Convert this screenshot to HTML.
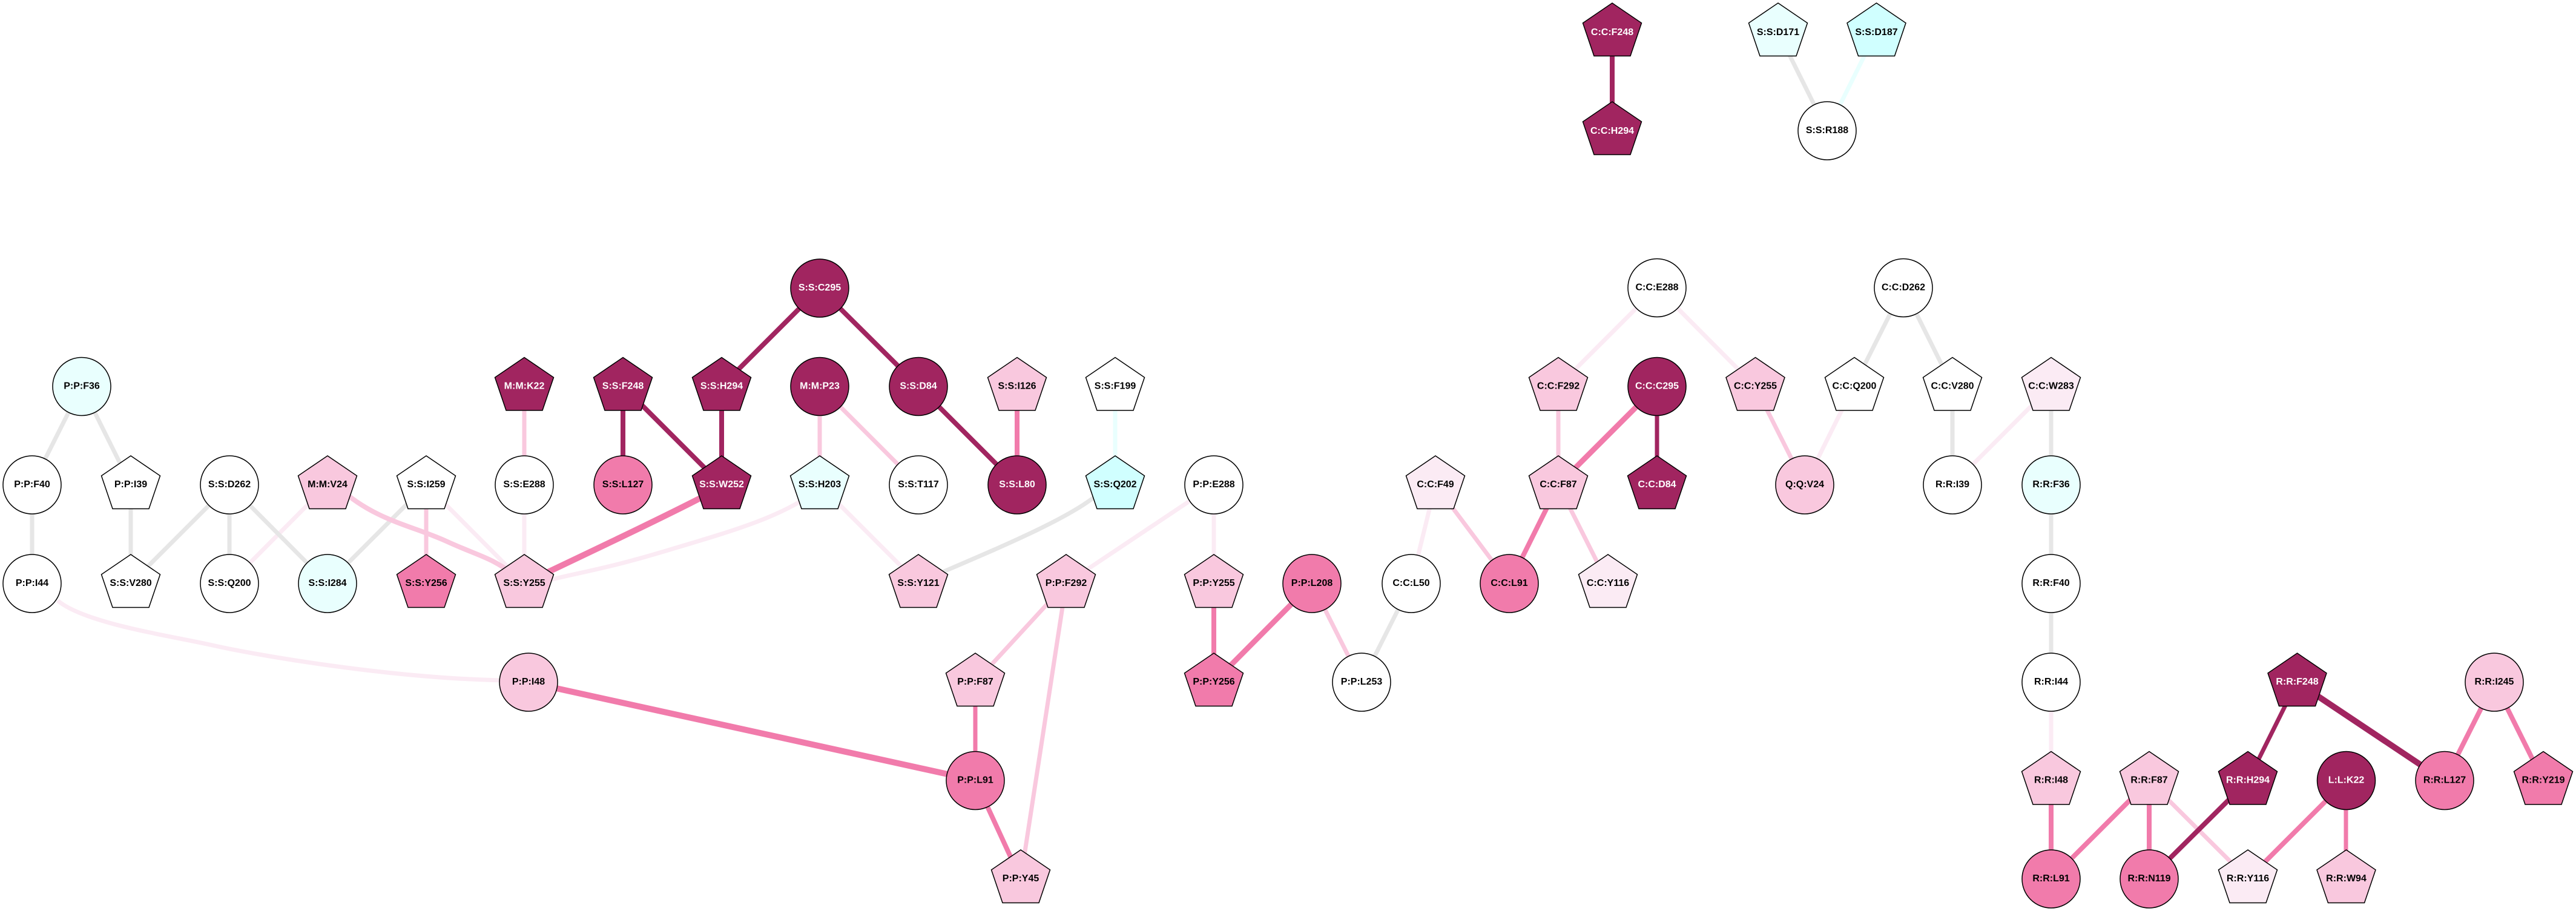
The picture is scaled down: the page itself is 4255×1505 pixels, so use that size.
<!DOCTYPE html>
<html><head><meta charset="utf-8"><style>
html,body{margin:0;padding:0;background:#fff}
svg{display:block}
text{font-family:"Liberation Sans",Arial,sans-serif;font-weight:bold;font-size:16px;text-anchor:middle;fill:#000}
.n polygon,.n circle{stroke:#000;stroke-width:1.5}
.w{fill:#fff}.lc{fill:#E9FFFE}.c{fill:#D0FFFF}.v{fill:#FBEBF4}.l{fill:#F9C8DE}.p{fill:#F17BAB}.d{fill:#A12560}
text.t{fill:#fff}
path{fill:none}
.eD{stroke:#A12560}.eP{stroke:#F17BAB}.eL{stroke:#F9C8DE}.eV{stroke:#FBEBF4}.eG{stroke:#E6E6E6}.eC{stroke:#E9FFFE}
</style></head><body>
<svg xmlns="http://www.w3.org/2000/svg" width="4255" height="1505" viewBox="0 0 4255 1505">
<rect width="4255" height="1505" fill="#fff"/>
<g stroke-width="7">
<path class="eV" d="M95 992C140 1030 280 1050 351 1066S640 1120 830 1124"/>
<path class="eV" d="M1345 813C1290 855 1200 880 1100 910S960 945 900 960"/>
<path class="eV" d="M541 801L379 964"/>
<path class="eV" d="M704 801L866 964"/>
<path class="eV" d="M866 801L866 964"/>
<path class="eV" d="M1354 801L1517 964"/>
<path class="eV" d="M2005 801L1761 964"/>
<path class="eV" d="M2005 801L2005 964"/>
<path class="eV" d="M2371 801L2331 964"/>
<path class="eV" d="M2737 475L2574 638"/>
<path class="eV" d="M2737 475L2899 638"/>
<path class="eV" d="M3062 638L2981 801"/>
<path class="eV" d="M3388 638L3225 801"/>
<path class="eV" d="M3388 1127L3388 1290"/>
<path class="eG" d="M2937 53L3018 216"/>
<path class="eC" d="M3099 53L3018 216"/>
<path class="eG" d="M135 638L53 801"/>
<path class="eG" d="M135 638L216 801"/>
<path class="eG" d="M53 801L53 964"/>
<path class="eG" d="M216 801L216 964"/>
<path class="eG" d="M379 801L216 964"/>
<path class="eG" d="M379 801L379 964"/>
<path class="eG" d="M379 801L541 964"/>
<path class="eG" d="M704 801L541 964"/>
<path class="eG" d="M1815 815C1770 855 1650 905 1550 948"/>
<path class="eG" d="M2331 964L2249 1127"/>
<path class="eG" d="M3144 475L3062 638"/>
<path class="eG" d="M3144 475L3225 638"/>
<path class="eG" d="M3225 638L3225 801"/>
<path class="eG" d="M3388 638L3388 801"/>
<path class="eG" d="M3388 801L3388 964"/>
<path class="eG" d="M3388 964L3388 1127"/>
<path class="eC" d="M1842 638L1842 801"/>
<path class="eL" d="M560 806C620 860 680 868 737 894S810 920 850 950" stroke-width="8"/>
<path class="eL" d="M704 801L704 964"/>
<path class="eL" d="M866 638L866 801"/>
<path class="eL" d="M1354 638L1354 801"/>
<path class="eL" d="M1354 638L1517 801"/>
<path class="eL" d="M1761 964L1611 1127"/>
<path class="eL" d="M1761 964L1686 1452"/>
<path class="eL" d="M2167 964L2249 1127"/>
<path class="eL" d="M2371 801L2493 964"/>
<path class="eL" d="M2574 801L2656 964"/>
<path class="eL" d="M2574 638L2574 801"/>
<path class="eL" d="M2899 638L2981 801"/>
<path class="eL" d="M3550 1290L3713 1452"/>
<path class="eP" d="M1680 638L1680 801" stroke-width="8"/>
<path class="eP" d="M1185 808C1130 838 1000 900 880 957" stroke-width="10"/>
<path class="eP" d="M873 1127L1611 1289" stroke-width="10"/>
<path class="eP" d="M1611 1127L1611 1289" stroke-width="7"/>
<path class="eP" d="M1611 1289L1686 1452" stroke-width="8"/>
<path class="eP" d="M2005 964L2005 1127" stroke-width="8"/>
<path class="eP" d="M2167 964L2005 1127" stroke-width="9"/>
<path class="eP" d="M2574 801L2493 964" stroke-width="8"/>
<path class="eP" d="M2737 638L2574 801" stroke-width="9"/>
<path class="eP" d="M3388 1290L3388 1452" stroke-width="8"/>
<path class="eP" d="M3550 1290L3388 1452" stroke-width="8"/>
<path class="eP" d="M3550 1290L3550 1452" stroke-width="8"/>
<path class="eP" d="M4120 1127L4038 1290" stroke-width="8"/>
<path class="eP" d="M4120 1127L4201 1290" stroke-width="8"/>
<path class="eP" d="M3875 1290L3713 1452" stroke-width="8"/>
<path class="eP" d="M3875 1290L3875 1452" stroke-width="7"/>
<path class="eD" d="M2663 53L2663 216" stroke-width="8"/>
<path class="eD" d="M1029 638L1029 801" stroke-width="8"/>
<path class="eD" d="M1029 638L1192 801" stroke-width="8"/>
<path class="eD" d="M1192 638L1192 801" stroke-width="8"/>
<path class="eD" d="M1354 476L1192 638" stroke-width="8"/>
<path class="eD" d="M1354 476L1517 638" stroke-width="8"/>
<path class="eD" d="M1517 638L1680 801" stroke-width="8"/>
<path class="eD" d="M2737 638L2737 801" stroke-width="7"/>
<path class="eD" d="M3794 1127L3713 1290" stroke-width="7"/>
<path class="eD" d="M3794 1127L4038 1290" stroke-width="10"/>
<path class="eD" d="M3713 1290L3550 1452" stroke-width="8"/>
</g>
<g class="n">
<g transform="translate(2663,53)"><polygon class="d" points="0,-48 48.5,-15 30,39.5 -30,39.5 -48.5,-15"/><text class="t" y="5">C:C:F248</text></g>
<g transform="translate(2663,216)"><polygon class="d" points="0,-48 48.5,-15 30,39.5 -30,39.5 -48.5,-15"/><text class="t" y="5">C:C:H294</text></g>
<g transform="translate(2937,53)"><polygon class="lc" points="0,-48 48.5,-15 30,39.5 -30,39.5 -48.5,-15"/><text y="5">S:S:D171</text></g>
<g transform="translate(3099.5,53)"><polygon class="c" points="0,-48 48.5,-15 30,39.5 -30,39.5 -48.5,-15"/><text y="5">S:S:D187</text></g>
<g transform="translate(3018,216)"><circle class="w" r="48"/><text y="4">S:S:R188</text></g>

<g transform="translate(1354,476)"><circle class="d" r="48"/><text class="t" y="4">S:S:C295</text></g>
<g transform="translate(2737,475.5)"><circle class="w" r="48"/><text y="4">C:C:E288</text></g>
<g transform="translate(3144,475.5)"><circle class="w" r="48"/><text y="4">C:C:D262</text></g>

<g transform="translate(135,638.5)"><circle class="lc" r="48"/><text y="4">P:P:F36</text></g>
<g transform="translate(866,638.5)"><polygon class="d" points="0,-48 48.5,-15 30,39.5 -30,39.5 -48.5,-15"/><text class="t" y="4">M:M:K22</text></g>
<g transform="translate(1029,638.5)"><polygon class="d" points="0,-48 48.5,-15 30,39.5 -30,39.5 -48.5,-15"/><text class="t" y="4">S:S:F248</text></g>
<g transform="translate(1192,638.5)"><polygon class="d" points="0,-48 48.5,-15 30,39.5 -30,39.5 -48.5,-15"/><text class="t" y="4">S:S:H294</text></g>
<g transform="translate(1354,638.5)"><circle class="d" r="48"/><text class="t" y="4">M:M:P23</text></g>
<g transform="translate(1517,638.5)"><circle class="d" r="48"/><text class="t" y="4">S:S:D84</text></g>
<g transform="translate(1680,638.5)"><polygon class="l" points="0,-48 48.5,-15 30,39.5 -30,39.5 -48.5,-15"/><text y="4">S:S:I126</text></g>
<g transform="translate(1842,638.5)"><polygon class="w" points="0,-48 48.5,-15 30,39.5 -30,39.5 -48.5,-15"/><text y="4">S:S:F199</text></g>
<g transform="translate(2574,638.5)"><polygon class="l" points="0,-48 48.5,-15 30,39.5 -30,39.5 -48.5,-15"/><text y="4">C:C:F292</text></g>
<g transform="translate(2737,638.5)"><circle class="d" r="48"/><text class="t" y="4">C:C:C295</text></g>
<g transform="translate(2899.5,638.5)"><polygon class="l" points="0,-48 48.5,-15 30,39.5 -30,39.5 -48.5,-15"/><text y="4">C:C:Y255</text></g>
<g transform="translate(3063,638.5)"><polygon class="w" points="0,-48 48.5,-15 30,39.5 -30,39.5 -48.5,-15"/><text y="4">C:C:Q200</text></g>
<g transform="translate(3225,638.5)"><polygon class="w" points="0,-48 48.5,-15 30,39.5 -30,39.5 -48.5,-15"/><text y="4">C:C:V280</text></g>
<g transform="translate(3388,638.5)"><polygon class="v" points="0,-48 48.5,-15 30,39.5 -30,39.5 -48.5,-15"/><text y="4">C:C:W283</text></g>

<g transform="translate(53,801)"><circle class="w" r="48"/><text y="4">P:P:F40</text></g>
<g transform="translate(216,801)"><polygon class="w" points="0,-48 48.5,-15 30,39.5 -30,39.5 -48.5,-15"/><text y="4">P:P:I39</text></g>
<g transform="translate(379,801)"><circle class="w" r="48"/><text y="4">S:S:D262</text></g>
<g transform="translate(541,801)"><polygon class="l" points="0,-48 48.5,-15 30,39.5 -30,39.5 -48.5,-15"/><text y="4">M:M:V24</text></g>
<g transform="translate(704,801)"><polygon class="w" points="0,-48 48.5,-15 30,39.5 -30,39.5 -48.5,-15"/><text y="4">S:S:I259</text></g>
<g transform="translate(866,801)"><circle class="w" r="48"/><text y="4">S:S:E288</text></g>
<g transform="translate(1029,801)"><circle class="p" r="48"/><text y="4">S:S:L127</text></g>
<g transform="translate(1192,801)"><polygon class="d" points="0,-48 48.5,-15 30,39.5 -30,39.5 -48.5,-15"/><text class="t" y="4">S:S:W252</text></g>
<g transform="translate(1354,801)"><polygon class="lc" points="0,-48 48.5,-15 30,39.5 -30,39.5 -48.5,-15"/><text y="4">S:S:H203</text></g>
<g transform="translate(1517,801)"><circle class="w" r="48"/><text y="4">S:S:T117</text></g>
<g transform="translate(1680,801)"><circle class="d" r="48"/><text class="t" y="4">S:S:L80</text></g>
<g transform="translate(1842,801)"><polygon class="c" points="0,-48 48.5,-15 30,39.5 -30,39.5 -48.5,-15"/><text y="4">S:S:Q202</text></g>
<g transform="translate(2005,801)"><circle class="w" r="48"/><text y="4">P:P:E288</text></g>
<g transform="translate(2371,801)"><polygon class="v" points="0,-48 48.5,-15 30,39.5 -30,39.5 -48.5,-15"/><text y="4">C:C:F49</text></g>
<g transform="translate(2574,801)"><polygon class="l" points="0,-48 48.5,-15 30,39.5 -30,39.5 -48.5,-15"/><text y="4">C:C:F87</text></g>
<g transform="translate(2737,801)"><polygon class="d" points="0,-48 48.5,-15 30,39.5 -30,39.5 -48.5,-15"/><text class="t" y="4">C:C:D84</text></g>
<g transform="translate(2981,801)"><circle class="l" r="48"/><text y="4">Q:Q:V24</text></g>
<g transform="translate(3225,801)"><circle class="w" r="48"/><text y="4">R:R:I39</text></g>
<g transform="translate(3388,801)"><circle class="lc" r="48"/><text y="4">R:R:F36</text></g>

<g transform="translate(53,964)"><circle class="w" r="48"/><text y="4">P:P:I44</text></g>
<g transform="translate(216,964)"><polygon class="w" points="0,-48 48.5,-15 30,39.5 -30,39.5 -48.5,-15"/><text y="4">S:S:V280</text></g>
<g transform="translate(379,964)"><circle class="w" r="48"/><text y="4">S:S:Q200</text></g>
<g transform="translate(541,964)"><circle class="lc" r="48"/><text y="4">S:S:I284</text></g>
<g transform="translate(704,964)"><polygon class="p" points="0,-48 48.5,-15 30,39.5 -30,39.5 -48.5,-15"/><text y="4">S:S:Y256</text></g>
<g transform="translate(866,964)"><polygon class="l" points="0,-48 48.5,-15 30,39.5 -30,39.5 -48.5,-15"/><text y="4">S:S:Y255</text></g>
<g transform="translate(1517,964)"><polygon class="l" points="0,-48 48.5,-15 30,39.5 -30,39.5 -48.5,-15"/><text y="4">S:S:Y121</text></g>
<g transform="translate(1761,964)"><polygon class="l" points="0,-48 48.5,-15 30,39.5 -30,39.5 -48.5,-15"/><text y="4">P:P:F292</text></g>
<g transform="translate(2005,964)"><polygon class="l" points="0,-48 48.5,-15 30,39.5 -30,39.5 -48.5,-15"/><text y="4">P:P:Y255</text></g>
<g transform="translate(2167,964)"><circle class="p" r="48"/><text y="4">P:P:L208</text></g>
<g transform="translate(2331,964)"><circle class="w" r="48"/><text y="4">C:C:L50</text></g>
<g transform="translate(2493,964)"><circle class="p" r="48"/><text y="4">C:C:L91</text></g>
<g transform="translate(2656,964)"><polygon class="v" points="0,-48 48.5,-15 30,39.5 -30,39.5 -48.5,-15"/><text y="4">C:C:Y116</text></g>
<g transform="translate(3388,964)"><circle class="w" r="48"/><text y="4">R:R:F40</text></g>

<g transform="translate(873,1127)"><circle class="l" r="48"/><text y="4">P:P:I48</text></g>
<g transform="translate(1611,1127)"><polygon class="l" points="0,-48 48.5,-15 30,39.5 -30,39.5 -48.5,-15"/><text y="4">P:P:F87</text></g>
<g transform="translate(2005,1127)"><polygon class="p" points="0,-48 48.5,-15 30,39.5 -30,39.5 -48.5,-15"/><text y="4">P:P:Y256</text></g>
<g transform="translate(2249,1127)"><circle class="w" r="48"/><text y="4">P:P:L253</text></g>
<g transform="translate(3388,1127)"><circle class="w" r="48"/><text y="4">R:R:I44</text></g>
<g transform="translate(3794.5,1127)"><polygon class="d" points="0,-48 48.5,-15 30,39.5 -30,39.5 -48.5,-15"/><text class="t" y="4">R:R:F248</text></g>
<g transform="translate(4120,1127)"><circle class="l" r="48"/><text y="4">R:R:I245</text></g>

<g transform="translate(1611,1289.5)"><circle class="p" r="48"/><text y="4">P:P:L91</text></g>
<g transform="translate(3388,1289.5)"><polygon class="l" points="0,-48 48.5,-15 30,39.5 -30,39.5 -48.5,-15"/><text y="4">R:R:I48</text></g>
<g transform="translate(3550,1289.5)"><polygon class="l" points="0,-48 48.5,-15 30,39.5 -30,39.5 -48.5,-15"/><text y="4">R:R:F87</text></g>
<g transform="translate(3713,1289.5)"><polygon class="d" points="0,-48 48.5,-15 30,39.5 -30,39.5 -48.5,-15"/><text class="t" y="4">R:R:H294</text></g>
<g transform="translate(3875.5,1289.5)"><circle class="d" r="48"/><text class="t" y="4">L:L:K22</text></g>
<g transform="translate(4038,1289.5)"><circle class="p" r="48"/><text y="4">R:R:L127</text></g>
<g transform="translate(4201,1289.5)"><polygon class="p" points="0,-48 48.5,-15 30,39.5 -30,39.5 -48.5,-15"/><text y="4">R:R:Y219</text></g>

<g transform="translate(1686,1452)"><polygon class="l" points="0,-48 48.5,-15 30,39.5 -30,39.5 -48.5,-15"/><text y="4">P:P:Y45</text></g>
<g transform="translate(3388,1452)"><circle class="p" r="48"/><text y="4">R:R:L91</text></g>
<g transform="translate(3550,1452)"><circle class="p" r="48"/><text y="4">R:R:N119</text></g>
<g transform="translate(3713,1452)"><polygon class="v" points="0,-48 48.5,-15 30,39.5 -30,39.5 -48.5,-15"/><text y="4">R:R:Y116</text></g>
<g transform="translate(3875.5,1452)"><polygon class="l" points="0,-48 48.5,-15 30,39.5 -30,39.5 -48.5,-15"/><text y="4">R:R:W94</text></g>
</g>
</svg>
</body></html>
